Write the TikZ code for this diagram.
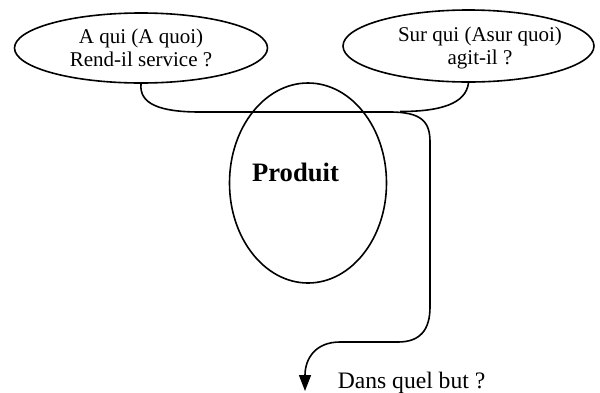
\documentclass[tikz,border=0pt]{standalone}
\usepackage{fontspec}
\setmainfont{Liberation Serif}
\usetikzlibrary{shapes.geometric,arrows.meta}
\begin{document}
\begin{tikzpicture}[x=0.5pt,y=-0.5pt,line width=0.8pt,
        bulle/.style={draw,ellipse,inner sep=0pt},
        question/.style={align=center,font=\fontsize{10.5}{11.7}\selectfont}]
    \useasboundingbox (0,0) rectangle (600,392);
    \node[bulle,question,minimum width=126.5pt,minimum height=35pt] (aqui) at (141,48)
        {A qui (A quoi)\\Rend-il service ?};
    \node[bulle,minimum width=125.5pt,minimum height=36pt] (surqui) at (468.5,46) {};
    \node[question] (surquitxt) at (480,48) {Sur qui (Asur quoi)\\agit-il ?};
    \node[bulle,minimum width=78.5pt,minimum height=100pt] (produit) at (308,183) {};
    \node[font=\fontsize{13.3}{16}\selectfont\bfseries] (nom) at (295.5,172) {Produit};
    \node[anchor=base west,inner sep=0pt,font=\fontsize{11.8}{14}\selectfont] (but) at (337,388)
        {Dans quel but ?};
    \coordinate (joint) at (400,111.5);
    \draw[-{Triangle[width=6pt,length=8pt]}] (aqui.south)
        .. controls (139,104) and (160,112) .. (200,112)
        -- (390,112) .. controls (422,112) and (430,122) .. (430,142)
        -- (430,307) .. controls (430,330) and (420,342) .. (398,342)
        -- (340,342) .. controls (316,342) and (305,358) .. (305,391);
    \draw (surqui.south) .. controls (466,104) and (440,111.5) .. (joint);
\end{tikzpicture}
\end{document}
